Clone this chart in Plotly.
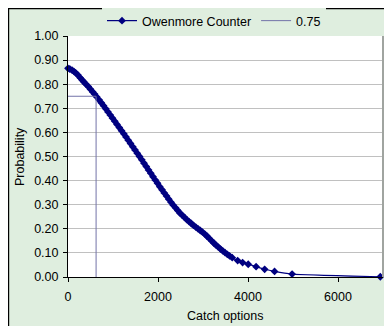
import plotly.graph_objects as go

# Owenmore Counter: catch options vs probability
catch = [0, 40, 90, 130, 170, 220, 270, 310, 350, 400, 450, 500, 550, 590, 640,
         690, 740, 790, 840, 890, 940, 990, 1040, 1090, 1140, 1190, 1240, 1290,
         1340, 1390, 1440, 1490, 1540, 1590, 1640, 1690, 1740, 1790, 1840, 1890,
         1940, 1990, 2040, 2090, 2140, 2190, 2240, 2290, 2340, 2390, 2440, 2490,
         2540, 2590, 2640, 2690, 2740, 2790, 2840, 2890, 2940, 2990, 3040, 3090,
         3140, 3190, 3240, 3290, 3340, 3390, 3440, 3490, 3540, 3590, 3650, 3770,
         3880, 4005, 4180, 4370, 4590, 4980, 6940]
prob = [0.866, 0.863, 0.858, 0.853, 0.847, 0.838, 0.827, 0.818, 0.810, 0.800,
        0.790, 0.779, 0.768, 0.759, 0.747, 0.735, 0.723, 0.711, 0.698, 0.685,
        0.672, 0.659, 0.646, 0.633, 0.620, 0.607, 0.594, 0.581, 0.567, 0.554,
        0.540, 0.527, 0.513, 0.500, 0.486, 0.472, 0.458, 0.444, 0.430, 0.416,
        0.402, 0.389, 0.375, 0.362, 0.349, 0.336, 0.323, 0.310, 0.298, 0.287,
        0.276, 0.265, 0.256, 0.247, 0.238, 0.230, 0.222, 0.214, 0.207, 0.200,
        0.193, 0.186, 0.178, 0.169, 0.160, 0.150, 0.141, 0.132, 0.124, 0.116,
        0.108, 0.101, 0.094, 0.088, 0.080, 0.068, 0.060, 0.053, 0.043, 0.032,
        0.023, 0.012, 0.001]

# 0.75 reference line
ref_x = [0, 624, 624]
ref_y = [0.75, 0.75, 0.0]

x_ticks = [0, 2000, 4000, 6000]
y_ticks = [0.0, 0.1, 0.2, 0.3, 0.4, 0.5, 0.6, 0.7, 0.8, 0.9, 1.0]

GREEN = "#DFEEDF"
FONT = "Liberation Sans, Arial, sans-serif"
FS = 12.5

fig = go.Figure()
fig.add_trace(go.Scatter(
    x=catch, y=prob, name="Owenmore Counter", mode="lines+markers",
    line=dict(color="#000080", width=1.2, shape="spline", smoothing=0.4),
    marker=dict(symbol="diamond", size=6, color="#000080"),
    cliponaxis=False,
))
fig.add_trace(go.Scatter(
    x=ref_x, y=ref_y, name="0.75", mode="lines",
    line=dict(color="#7373A8", width=1),
))

# the page body adds an 8px offset; figure is sized to fill the rest
OFF = 8
W, H = 392 - OFF, 326 - OFF
L, T = 68 - OFF, 36 - OFF
R = W - (383 - OFF)
B = H - (277 - OFF)
pw, ph = W - L - R, H - T - B

def px(xp):
    return (xp - OFF - L) / pw

def py(yp):
    return (H - B - (yp - OFF)) / ph

shapes = [
    dict(type="line", xref="paper", yref="paper", x0=px(8.6), x1=px(8.6), y0=-0.5, y1=1.5,
         line=dict(color="black", width=1.2)),
    dict(type="line", xref="paper", yref="paper", x0=-0.5, x1=1.5, y0=py(8.6), y1=py(8.6),
         line=dict(color="black", width=1.2)),
    dict(type="line", xref="paper", yref="paper", x0=1.0, x1=1.0, y0=0, y1=1,
         line=dict(color="#A0A4A0", width=2)),
]

annotations = [
    dict(text="Probability", xref="paper", yref="paper",
         x=px(20), y=py(156), textangle=-90,
         xanchor="center", yanchor="middle", showarrow=False,
         font=dict(size=FS)),
    dict(text="Catch options", xref="paper", yref="paper",
         x=px(225), y=py(316),
         xanchor="center", yanchor="middle", showarrow=False,
         font=dict(size=FS)),
]

fig.update_layout(
    width=W, height=H,
    margin=dict(l=L, r=R, t=T, b=B, pad=0, autoexpand=False),
    paper_bgcolor=GREEN, plot_bgcolor="white",
    font=dict(family=FONT, size=FS, color="black"),
    showlegend=True,
    legend=dict(orientation="h", x=px(214), xanchor="center", y=1.0, yanchor="bottom",
                bgcolor=GREEN, borderwidth=0, font=dict(size=FS),
                itemwidth=30, tracegroupgap=0),
    shapes=shapes,
    annotations=annotations,
    xaxis=dict(range=[0, 7000], tickvals=x_ticks, ticktext=[str(v) for v in x_ticks],
               showgrid=False, zeroline=False, showline=True, linecolor="black",
               linewidth=1, ticks="outside", ticklen=4, tickcolor="black",
               ticklabelstandoff=4,
               automargin=False, tickfont=dict(size=FS)),
    yaxis=dict(range=[0, 1.0], tickvals=y_ticks, tickformat=".2f",
               showgrid=True, gridcolor="#C0C0C0", gridwidth=1, zeroline=False,
               showline=True, linecolor="black", linewidth=1, ticks="outside",
               ticklen=4, tickcolor="black", automargin=False,
               ticklabelstandoff=2,
               tickfont=dict(size=FS)),
)

fig.write_html("out.html")
